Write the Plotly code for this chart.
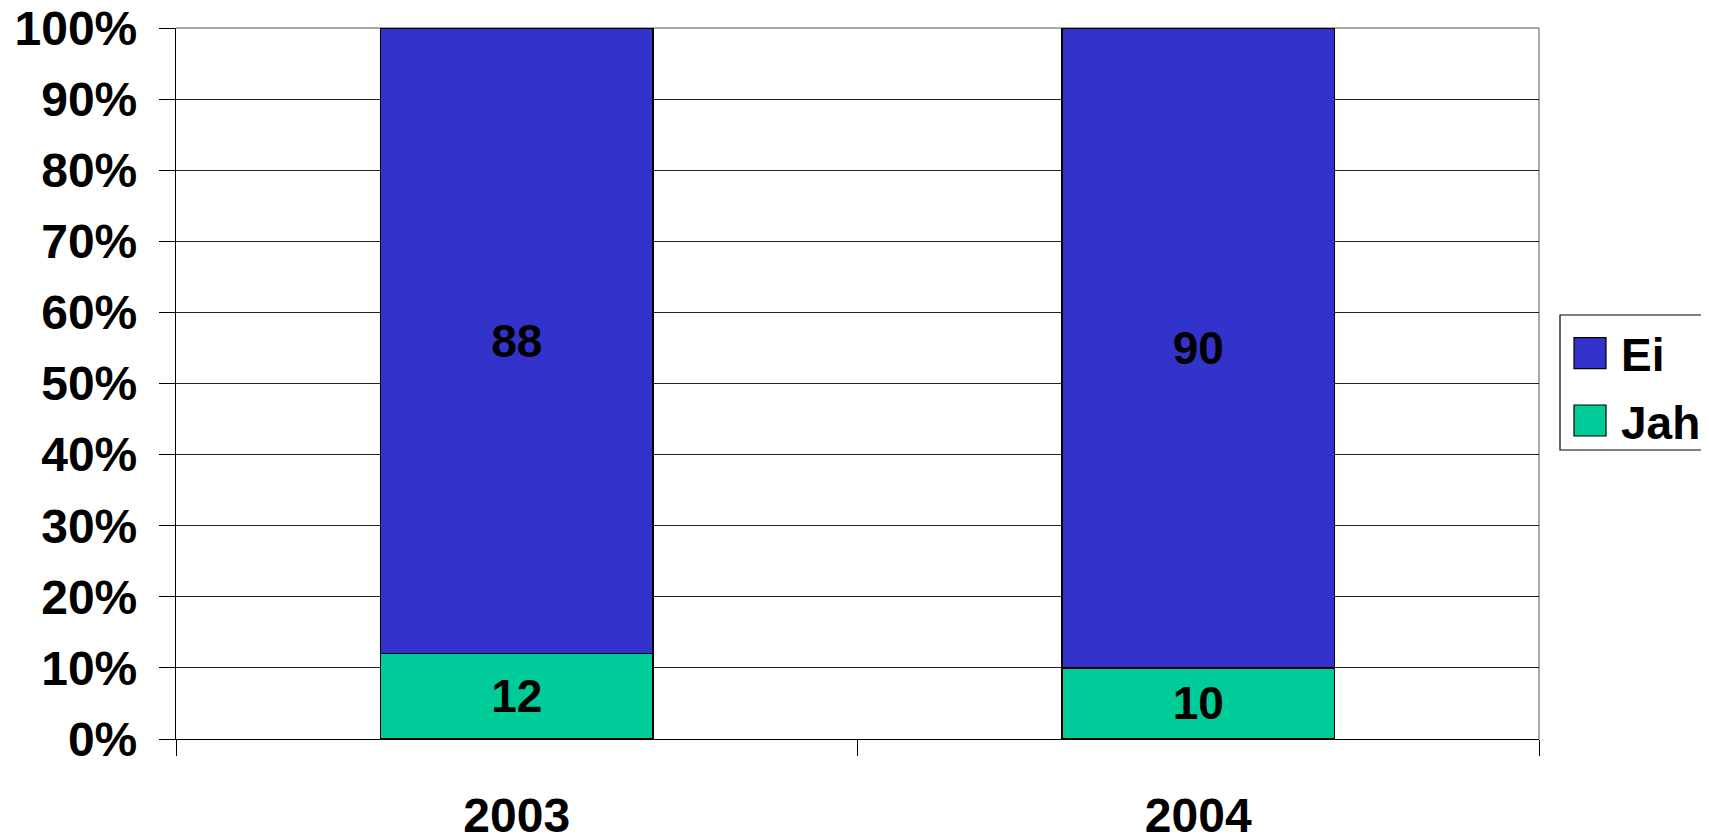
import plotly.graph_objects as go

categories = ["2003", "2004"]
series_names = ["Jah", "Ei"]
jah_values = [12, 10]
ei_values = [88, 90]
series_colors = {"Jah": "#00CC99", "Ei": "#3333CC"}
y_tick_values = [0, 10, 20, 30, 40, 50, 60, 70, 80, 90, 100]
y_tick_labels = [f"{v}%" for v in y_tick_values]

OFF = 8  # page body margin
W, H = 1709 - OFF, 836 - OFF
# plot-area edges in screenshot pixels
SL, SR, ST, SB = 176, 1539, 28, 739
L, R, T, B = SL - OFF, SR - OFF, ST - OFF, SB - OFF
FONT = dict(family="Liberation Sans, Arial, sans-serif", size=46, color="black", weight="bold")
AXFONT = dict(FONT, size=48)

def px(x):
    return (x - SL) / (SR - SL)

def py(y):
    return (SB - y) / (SB - ST)

fig = go.Figure()
for name, vals in zip(series_names, [jah_values, ei_values]):
    fig.add_trace(go.Bar(
        x=categories, y=vals, name=name,
        marker=dict(color=series_colors[name], line=dict(color="black", width=1.2)),
        width=0.4,
        text=[str(v) for v in vals], textposition="inside", insidetextanchor="middle",
        textfont=FONT, textangle=0, cliponaxis=False,
        showlegend=False,
    ))

shapes = [
    dict(type="line", xref="paper", yref="paper", x0=0, x1=1, y0=1, y1=1,
         line=dict(color="#8c8c8c", width=1.5), layer="between"),
    dict(type="line", xref="paper", yref="paper", x0=1, x1=1, y0=0, y1=1,
         line=dict(color="#8c8c8c", width=1.5), layer="between"),
    dict(type="rect", xref="paper", yref="paper", x0=px(1560), x1=px(1720), y0=py(450), y1=py(315),
         line=dict(color="black", width=1.2), fillcolor="white", layer="above"),
]
annotations = []
legend_rows = [("Ei", 337.7, 368.7), ("Jah", 405, 436)]
for name, y0, y1 in legend_rows:
    shapes.append(dict(type="rect", xref="paper", yref="paper", x0=px(1574), x1=px(1606),
                       y0=py(y1), y1=py(y0), fillcolor=series_colors[name],
                       line=dict(color="black", width=1.2), layer="above"))
    annotations.append(dict(xref="paper", yref="paper", x=px(1619), y=py((y0 + y1) / 2 + 2),
                            text=name, showarrow=False, xanchor="left", yanchor="middle",
                            font=FONT))

fig.update_layout(
    width=W, height=H, autosize=False,
    margin=dict(l=L, r=W - R, t=T, b=H - B, pad=0, autoexpand=False),
    barmode="stack",
    plot_bgcolor="white", paper_bgcolor="white",
    font=FONT,
    shapes=shapes, annotations=annotations,
    showlegend=False,
)
fig.update_xaxes(
    type="category", range=[-0.5, 1.5], tickson="boundaries",
    ticks="outside", ticklen=16, tickwidth=1.2, tickcolor="black",
    showline=True, linecolor="black", linewidth=1.2,
    showgrid=False, tickfont=AXFONT, ticklabelstandoff=34, automargin=False,
    ticklabeloverflow="allow",
)
fig.update_yaxes(
    range=[0, 100], tickvals=y_tick_values, ticktext=y_tick_labels,
    ticks="outside", ticklen=16, tickwidth=1.2, tickcolor="black",
    showline=True, linecolor="black", linewidth=1.2,
    showgrid=True, gridcolor="#222222", gridwidth=1.2,
    zeroline=False, tickfont=AXFONT, ticklabelstandoff=12, automargin=False,
    ticklabeloverflow="allow",
)

fig.write_html("out.html")
